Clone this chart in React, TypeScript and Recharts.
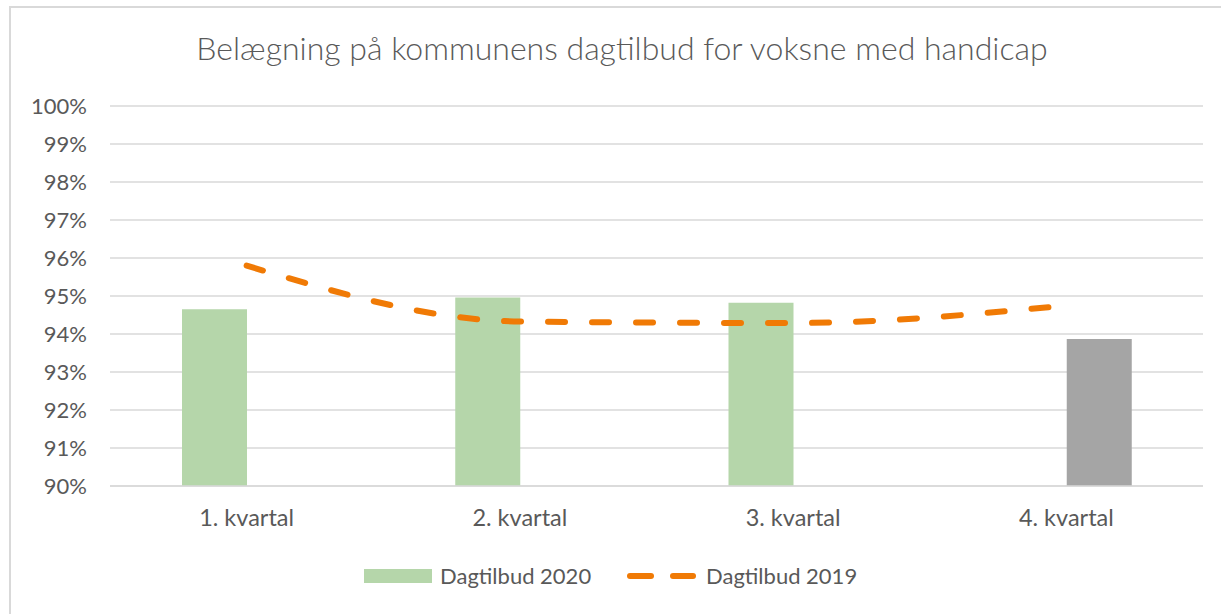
import { Bar, CartesianGrid, ComposedChart, Line, XAxis, YAxis } from 'recharts';

const quarters = ['1. kvartal', '2. kvartal', '3. kvartal', '4. kvartal'];
const dagtilbud2020 = [0.9465, 0.9496, 0.9482, null];
const dagtilbud2020Q4 = [null, null, null, 0.9387];
const dagtilbud2019 = [0.958, 0.9433, 0.9429, 0.9475];
const yTicks = [0.9, 0.91, 0.92, 0.93, 0.94, 0.95, 0.96, 0.97, 0.98, 0.99, 1.0];

const data = quarters.map((q, i) => ({
  quarter: q,
  v2020: dagtilbud2020[i],
  v2020q4: dagtilbud2020Q4[i],
  v2019: dagtilbud2019[i],
}));

const textColor = '#595959';
const font = 'Lato, sans-serif';

export default function App() {
  return (
    <div style={{ position: 'absolute', left: 0, top: 0, width: 1221, height: 614, overflow: 'hidden', background: '#fff', fontFamily: font }}>
      <div style={{ position: 'absolute', left: 9, top: 6, width: 1240, height: 640, border: '2px solid #d9d9d9', boxSizing: 'border-box' }} />
      <div style={{ position: 'absolute', left: 9, width: 1226, top: 28, textAlign: 'center', fontSize: 32, fontWeight: 300, color: textColor, whiteSpace: 'nowrap', lineHeight: '40px' }}>
        Belægning på kommunens dagtilbud for voksne med handicap
      </div>

      <ComposedChart
        width={1221}
        height={614}
        data={data}
        margin={{ top: 106, right: 18, bottom: 98, left: 10 }}
        barGap={0}
        barSize={65}
        style={{ position: 'absolute', left: 0, top: 0 }}
      >
        <CartesianGrid vertical={false} stroke="#d9d9d9" strokeWidth={1.5} />
        <XAxis
          dataKey="quarter"
          height={30}
          axisLine={{ stroke: '#d9d9d9', strokeWidth: 1.5 }}
          tickLine={false}
          tickMargin={17}
          tick={{ fontFamily: font, fontSize: 23.5, fill: textColor }}
        />
        <YAxis
          width={100}
          domain={[0.9, 1.0]}
          ticks={yTicks}
          interval={0}
          axisLine={false}
          tickLine={false}
          tickMargin={17}
          tickFormatter={(v: number) => `${Math.round(v * 100)}%`}
          tick={{ fontFamily: font, fontSize: 22, fill: textColor }}
        />
        <Bar dataKey="v2020" name="Dagtilbud 2020" fill="#b5d6aa" isAnimationActive={false} />
        <Bar dataKey="v2020q4" name="Dagtilbud 2020 (4. kvartal)" fill="#a5a5a5" isAnimationActive={false} />
        <Line
          type="monotone"
          dataKey="v2019"
          name="Dagtilbud 2019"
          stroke="#f07a05"
          strokeWidth={6}
          strokeDasharray="17 27"
          strokeLinecap="round"
          dot={false}
          activeDot={false}
          isAnimationActive={false}
        />
      </ComposedChart>

      <div style={{ position: 'absolute', left: 364, top: 569, width: 68, height: 14, background: '#b5d6aa' }} />
      <div style={{ position: 'absolute', left: 440, top: 562, fontSize: 22, color: textColor, lineHeight: '28px' }}>Dagtilbud 2020</div>
      <svg style={{ position: 'absolute', left: 620, top: 566 }} width={80} height={20}>
        <line x1={10} y1={10} x2={31} y2={10} stroke="#f07a05" strokeWidth={6} strokeLinecap="round" />
        <line x1={53} y1={10} x2={73} y2={10} stroke="#f07a05" strokeWidth={6} strokeLinecap="round" />
      </svg>
      <div style={{ position: 'absolute', left: 706, top: 562, fontSize: 22, color: textColor, lineHeight: '28px' }}>Dagtilbud 2019</div>
    </div>
  );
}
